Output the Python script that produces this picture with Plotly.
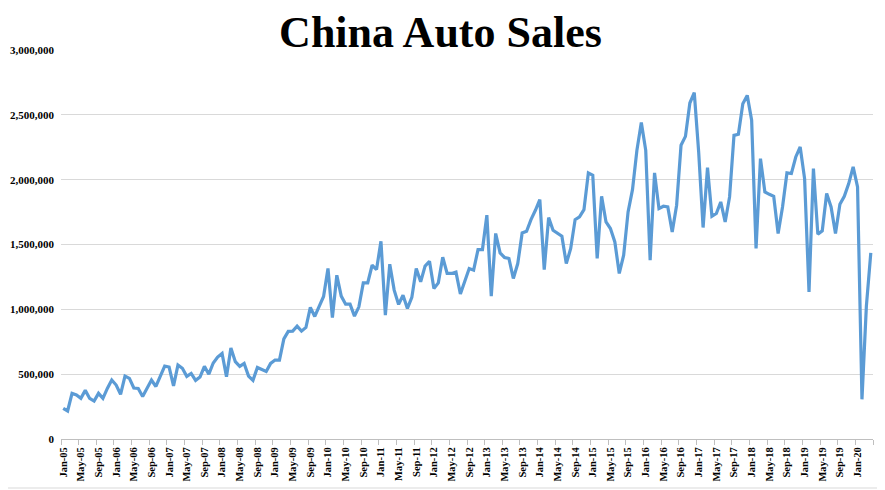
import plotly.graph_objects as go

# Monthly China auto sales, Jan-2005 .. Apr-2020
sales = [
    236000, 216000, 352000, 339000, 314000, 375000, 313000, 292000, 352000, 313000, 390000, 455000,
    416000, 345000, 485000, 467000, 393000, 390000, 328000, 390000, 455000, 405000, 490000, 562000,
    555000, 410000, 570000, 545000, 483000, 506000, 452000, 478000, 560000, 500000, 586000, 632000,
    660000, 480000, 701000, 596000, 560000, 583000, 485000, 452000, 552000, 537000, 521000, 583000,
    609000, 609000, 772000, 830000, 832000, 870000, 832000, 860000, 1015000, 945000, 1028000, 1099000,
    1315000, 937000, 1263000, 1102000, 1040000, 1040000, 948000, 1019000, 1204000, 1204000, 1340000, 1307000,
    1525000, 955000, 1348000, 1148000, 1038000, 1109000, 1007000, 1092000, 1315000, 1212000, 1333000, 1371000,
    1161000, 1204000, 1402000, 1277000, 1277000, 1287000, 1118000, 1212000, 1315000, 1302000, 1461000, 1461000,
    1726000, 1102000, 1585000, 1435000, 1400000, 1392000, 1238000, 1353000, 1589000, 1602000, 1692000, 1764000,
    1846000, 1307000, 1708000, 1610000, 1589000, 1564000, 1353000, 1469000, 1692000, 1713000, 1769000, 2052000,
    2034000, 1392000, 1872000, 1674000, 1623000, 1520000, 1277000, 1418000, 1751000, 1923000, 2226000, 2441000,
    2226000, 1379000, 2052000, 1777000, 1795000, 1790000, 1597000, 1803000, 2265000, 2334000, 2591000, 2671000,
    2213000, 1631000, 2093000, 1718000, 1739000, 1828000, 1674000, 1867000, 2342000, 2350000, 2586000, 2650000,
    2458000, 1469000, 2162000, 1905000, 1887000, 1872000, 1585000, 1790000, 2052000, 2047000, 2175000, 2252000,
    2008000, 1135000, 2085000, 1579000, 1605000, 1893000, 1790000, 1585000, 1810000, 1872000, 1970000, 2098000,
    1944000, 306000, 1025000, 1435000,
]

month_names = ["Jan", "Feb", "Mar", "Apr", "May", "Jun",
               "Jul", "Aug", "Sep", "Oct", "Nov", "Dec"]
start_year = 2005
month_labels = [f"{month_names[i % 12]}-{(start_year + i // 12) % 100:02d}"
                for i in range(len(sales))]

x_idx = list(range(len(sales)))
label_idx = list(range(0, len(sales), 4))
label_text = [month_labels[i] for i in label_idx]
boundary_ticks = [i - 0.5 for i in range(0, len(sales) + 1, 4)]

y_ticks = [0, 500000, 1000000, 1500000, 2000000, 2500000, 3000000]
y_text = [f"{v:,}" for v in y_ticks]

font_serif = "Liberation Serif, Times New Roman, serif"

# the page body adds an 8px margin, so the figure is 8px smaller in each direction
W, H = 877, 482
L, T, PW, PH = 53, 42, 812, 389

fig = go.Figure()
fig.add_trace(go.Scatter(
    x=x_idx, y=sales, mode="lines",
    line=dict(color="#5B9BD5", width=3.2),
    hoverinfo="skip",
))

fig.update_layout(
    width=W, height=H,
    margin=dict(l=L, r=W - L - PW, t=T, b=H - T - PH, autoexpand=False),
    paper_bgcolor="white", plot_bgcolor="white",
    showlegend=False,
    title=dict(
        text="<b>China Auto Sales</b>",
        font=dict(family=font_serif, size=44, color="black"),
        x=432.5 / W, xanchor="center", xref="container",
        y=1 - 24 / H, yanchor="middle", yref="container",
    ),
)

fig.update_xaxes(
    automargin=False,
    range=[-0.5, len(sales) - 0.5],
    tickmode="array", tickvals=label_idx,
    ticktext=[f"<b>{t}</b>" for t in label_text],
    tickangle=-90, ticks="",
    tickfont=dict(family=font_serif, size=10.5, color="black"),
    showgrid=False, zeroline=False,
    showline=True, linecolor="#BFBFBF", linewidth=1,
    minor=dict(tickmode="array", tickvals=boundary_ticks, ticks="outside",
               ticklen=5, tickcolor="#BFBFBF", showgrid=False),
    ticklabelstandoff=3,
)
fig.update_yaxes(
    automargin=False,
    range=[0, 3000000],
    tickmode="array", tickvals=y_ticks, ticktext=[f"<b>{t}</b>" for t in y_text],
    tickfont=dict(family=font_serif, size=11, color="black"),
    showgrid=True, gridcolor="#D9D9D9", gridwidth=1,
    zeroline=False, showline=False, ticks="",
    ticklabelstandoff=6,
)

fig.add_shape(type="line", xref="paper", yref="paper",
              x0=-L / PW, x1=(W - L) / PW,
              y0=(T + PH - 480) / PH, y1=(T + PH - 480) / PH,
              line=dict(color="#D9D9D9", width=1))

fig.write_html("out.html")
